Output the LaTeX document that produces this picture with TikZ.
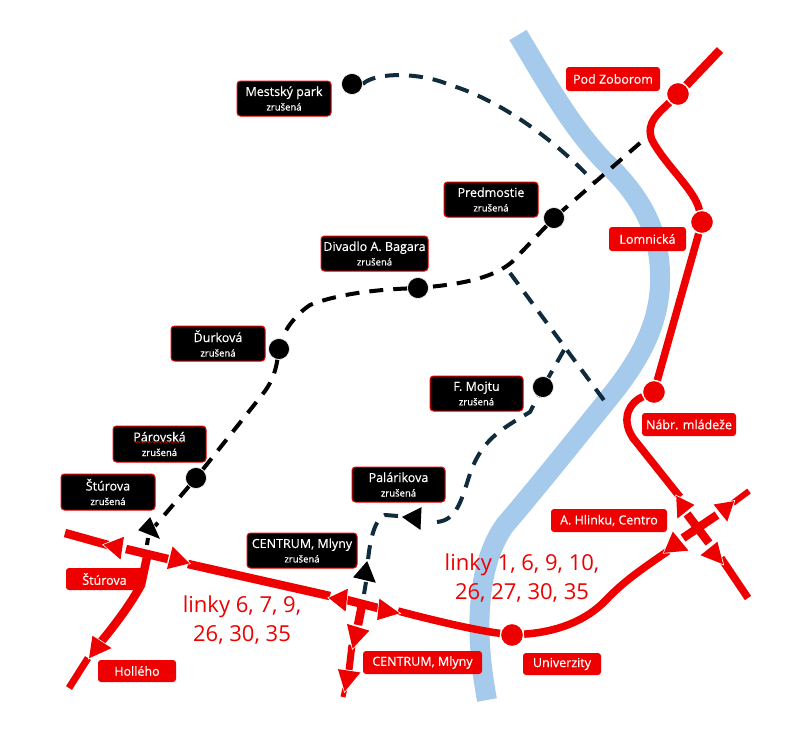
\documentclass[tikz,border=0pt]{standalone}
\usepackage{fontspec}
\setmainfont{Open Sans}
\newfontfamily\semib{Open Sans}[FakeBold=0.35]
\usetikzlibrary{decorations.pathmorphing}
\definecolor{lred}{HTML}{EE0000}
\definecolor{river}{HTML}{A6CAEC}
\definecolor{navy}{HTML}{0F2B3C}
\tikzset{
  x=1pt,y=-1pt,
  riverline/.style={river,line width=20pt,line cap=butt},
  redline/.style={lred,line width=8.5pt,line cap=butt},
  blackdash/.style={black,line width=4pt,dash pattern=on 14pt off 10pt},
  navydash/.style={navy,line width=4pt,dash pattern=on 14pt off 10pt},
  redstop/.style={circle,fill=lred,draw=white,line width=1.2pt,minimum size=23pt,inner sep=0pt},
  blackstop/.style={circle,fill=black,draw=white,line width=0.6pt,minimum size=21pt,inner sep=0pt},
  closedbox/.style={fill=black,draw=lred,line width=1pt,rounded corners=3.5pt,text=white,align=center,inner sep=0pt,
     font=\semib\fontsize{12.5}{14.5}\selectfont},
  redbox/.style={fill=lred,rounded corners=3pt,text=white,align=center,inner sep=0pt,
     font=\semib\fontsize{12.5}{14}\selectfont},
  linklabel/.style={text=lred,align=center,font=\fontsize{22}{29.5}\selectfont},
  redtip/.style={fill=lred,draw=lred,line width=1.5pt,line join=miter,preaction={draw=white,line width=3pt}},
  blacktip/.style={fill=black,draw=black,line width=1pt,line join=miter,preaction={draw=white,line width=2pt}},
}
\newcommand{\zr}{{\fontsize{9.5}{11}\selectfont zrušená}}
\newcommand{\lab}[6]{\node[#1,minimum width=#4pt,minimum height=#5pt] (#2) at (#3) {#6};}
\begin{document}
\begin{tikzpicture}
\useasboundingbox[fill=white] (0,0) rectangle (803,729);
% river
\draw[riverline] (518,35) .. controls (545,80) and (570,125) .. (603,160)
  .. controls (640,195) and (662,230) .. (660,285)
  .. controls (658,330) and (635,365) .. (613,393)
  .. controls (575,440) and (535,490) .. (505,525)
  .. controls (480,560) and (472,620) .. (487,700);

% named points
\coordinate (pz1) at (720,50);
\coordinate (hl) at (697,528);

% red stops
\node[redstop] (spz) at (678,94) {};
\node[redstop] (slo) at (702,222) {};
\node[redstop] (sna) at (654,392) {};
\node[redstop] (sun) at (512,635) {};

% red lines
\draw[redline] (pz1) -- (spz);
\draw[redline,line width=7.5pt] (spz) .. controls (660,112) and (645,122) .. (652,140)
  .. controls (665,165) and (695,190) .. (slo);
\draw[redline,line width=7.5pt] (slo) -- (sna);
\draw[redline,line width=7.5pt] (sna) .. controls (630,402) and (620,418) .. (633,438) -- (680,497);
\draw[redline] (hl) ++(-10,-14) -- ++(22,29);
\draw[redline] (hl) ++(-14,10) -- ++(34,-23);
\draw[redline,line width=6pt] (733,503) -- (749,491);
\draw[redline,line width=7.5pt] (721,558) -- (748,598);
\draw[redline,line width=7.5pt] (sun) .. controls (555,632) and (585,622) .. (606,600)
  .. controls (625,580) and (645,567) .. (668,551);
\draw[redline,line width=7.5pt] (sun) .. controls (475,630) and (440,622) .. (398,611);
\draw[redline] (188,564) -- (330,596);
\draw[redline] (65,533) -- (108,545);
\draw[redline] (126,549) -- (168,559);
\draw[redline] (147,557) -- (141,585) .. controls (130,605) and (115,625) .. (100,643);
\draw[redline,line width=7pt] (88,658) -- (69,688);
\draw[redline] (347,600) -- (378,608);
\draw[redline] (362,605) -- (358,625);
\draw[redline,line width=7pt] (352,645) -- (349,670);
\draw[redline,line width=5pt] (345,688) -- (343,697);
\node[redstop] at (spz) {};
\node[redstop] at (slo) {};
\node[redstop] at (sna) {};
\node[redstop] at (sun) {};

% dashed lines
\coordinate (e1) at (640,143);
\node[blackstop] (smp) at (352,84) {};
\node[blackstop] (spr) at (554,218) {};
\node[blackstop] (sdi) at (418,288) {};
\node[blackstop] (sdu) at (279,349) {};
\node[blackstop] (spa) at (196,478) {};
\node[blackstop] (smo) at (543,387) {};

\draw[navydash] (smp.east) .. controls (375,72) and (420,72) .. (450,85)
  .. controls (500,100) and (555,140) .. (593,181);
\draw[navydash] (510,273) -- (606,403);
\draw[navydash] (564,350) -- (smo);
\draw[navydash] (437,522) .. controls (455,520) and (460,505) .. (468,480)
   .. controls (480,440) and (500,430) .. (530,412) -- (smo);
\draw[navydash] (398,516) -- (385,515) .. controls (375,518) and (370,540) .. (368,560);
\draw[navydash] (366,582) -- (364,594);
\draw[blackdash] (e1) -- (spr) -- (512,262) .. controls (495,276) and (470,283) .. (sdi);
\draw[blackdash] (sdi) .. controls (370,290) and (335,295) .. (310,305)
  .. controls (295,315) and (285,330) .. (sdu);
\draw[blackdash] (sdu) .. controls (275,375) and (270,385) .. (262,395) -- (spa) -- (155,526);
\draw[blackdash] (148,538) -- (147,545);
\node[blackstop] at (smp) {};
\node[blackstop] at (spr) {};
\node[blackstop] at (sdi) {};
\node[blackstop] at (sdu) {};
\node[blackstop] at (spa) {};
\node[blackstop] at (smo) {};

% arrow tips
\path[blacktip] (150,518) -- (159,538) -- (139,530) -- cycle;
\path[blacktip] (367,562) -- (375,582) -- (354,577) -- cycle;
\path[blacktip] (421,508) -- (420,529) -- (403,517) -- cycle;
\path[redtip] (677,497) -- (693,505) -- (678,517) -- cycle;
\path[redtip] (715,505) -- (733,502) -- (727,520) -- cycle;
\path[redtip] (717,543) -- (722,563) -- (702,555) -- cycle;
\path[redtip] (673,533) -- (687,550) -- (665,552) -- cycle;
\path[redtip] (380,600) -- (398,613) -- (378,619) -- cycle;
\path[redtip] (347,590) -- (345,610) -- (330,598) -- cycle;
\path[redtip] (348,625) -- (368,631) -- (353,647) -- cycle;
\path[redtip] (339,670) -- (359,673) -- (345,690) -- cycle;
\path[redtip] (123,538) -- (120,558) -- (105,545) -- cycle;
\path[redtip] (173,548) -- (188,563) -- (168,568) -- cycle;
\path[redtip] (93,637) -- (110,648) -- (90,657) -- cycle;

% closed stop labels
\lab{closedbox}{lmp}{284,98.5}{94}{35}{Mestský park\\\zr}
\lab{closedbox}{lpr}{491,199.5}{94}{35}{Predmostie\\\zr}
\lab{closedbox}{ldi}{374.5,253.5}{107}{35}{Divadlo A. Bagara\\\zr}
\lab{closedbox}{ldu}{218,343.5}{94}{35}{Ďurková\\\zr}
\lab{closedbox}{lmo}{476.5,393.5}{93}{35}{F. Mojtu\\\zr}
\lab{closedbox}{lpa}{159.5,444}{93}{36}{Párovská\\\zr}
\lab{closedbox}{lst}{108,492}{94}{36}{Štúrova\\\zr}
\lab{closedbox}{lce}{302,550.5}{110}{35}{CENTRUM, Mlyny\\\zr}
\lab{closedbox}{lpl}{398.5,484.5}{93}{35}{Palárikova\\\zr}
\draw[lred,line width=0.5pt,decorate,decoration={snake,amplitude=0.5pt,segment length=3pt}] (134,442) -- (184,442);

% red labels
\lab{redbox}{rpz}{613,79}{94}{24}{Pod Zoborom}
\lab{redbox}{rlo}{647.5,239}{77}{24}{Lomnická}
\lab{redbox}{rna}{689,424.5}{94}{23}{Nábr. mládeže}
\lab{redbox}{rhl}{609,520.5}{116}{23}{A. Hlinku, Centro}
\lab{redbox}{rst}{104.5,579}{77}{22}{Štúrova}
\lab{redbox}{rho}{137,671}{78}{22}{Hollého}
\lab{redbox}{rce}{422.5,662.5}{119}{23}{CENTRUM, Mlyny}
\lab{redbox}{run}{562,664}{78}{22}{Univerzity}

% line lists
\node[linklabel] (t1) at (242,620) {linky 6, 7, 9,\\26, 30, 35};
\node[linklabel] (t2) at (522,578) {linky 1, 6, 9, 10,\\26, 27, 30, 35};
\end{tikzpicture}
\end{document}
